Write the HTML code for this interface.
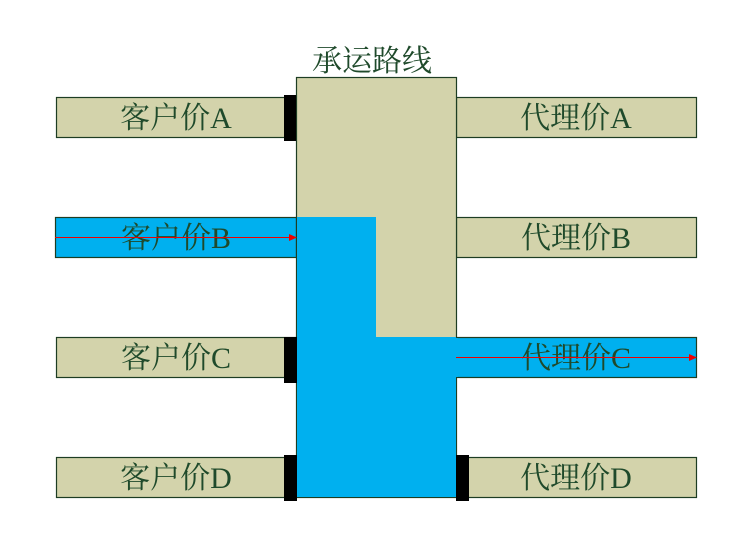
<!DOCTYPE html>
<html><head><meta charset="utf-8"><style>
html,body{margin:0;padding:0;background:#fff;width:737px;height:554px;overflow:hidden}
text{font-family:"Liberation Serif","Noto Serif CJK SC",serif;font-size:30px;fill:#1f4a2b}
</style></head><body>
<svg width="737" height="554" viewBox="0 0 737 554" xmlns="http://www.w3.org/2000/svg">
<g stroke="#1d3d23" stroke-width="1.2">
<rect x="56.5" y="97.5" width="240" height="40" fill="#d3d3ab"/>
<rect x="56.5" y="337.5" width="240" height="40" fill="#d3d3ab"/>
<rect x="56.5" y="457.5" width="240" height="40" fill="#d3d3ab"/>
<rect x="55.5" y="217.5" width="241" height="40" fill="#00b0ef"/>
<rect x="456.5" y="97.5" width="240" height="40" fill="#d3d3ab"/>
<rect x="456.5" y="217.5" width="240" height="40" fill="#d3d3ab"/>
<rect x="456.5" y="457.5" width="240" height="40" fill="#d3d3ab"/>
<rect x="456.5" y="337.5" width="240" height="40" fill="#00b0ef"/>
<rect x="296.5" y="77.5" width="160" height="420" fill="#d3d3ab"/>
</g>
<polygon points="297,217 376,217 376,337 456,337 456,497 297,497" fill="#00b0ef"/>
<rect x="297" y="218" width="1" height="39" fill="#00b0ef"/>
<rect x="456" y="338" width="2" height="39" fill="#00b0ef"/>
<rect x="284" y="95" width="12" height="46" fill="#000"/>
<rect x="284" y="337" width="13" height="46" fill="#000"/>
<rect x="284" y="455" width="13" height="46" fill="#000"/>
<rect x="456" y="455" width="13" height="46" fill="#000"/>
<text x="372" y="71" text-anchor="middle">承运路线</text>
<text x="176" y="128" text-anchor="middle">客户价A</text>
<text x="176" y="248" text-anchor="middle">客户价B</text>
<text x="176" y="368" text-anchor="middle">客户价C</text>
<text x="176" y="488" text-anchor="middle">客户价D</text>
<text x="576" y="128" text-anchor="middle">代理价A</text>
<text x="576" y="248" text-anchor="middle">代理价B</text>
<text x="576" y="368" text-anchor="middle">代理价C</text>
<text x="576" y="488" text-anchor="middle">代理价D</text>
<line x1="55" y1="237.5" x2="291" y2="237.5" stroke="#e00" stroke-width="1"/>
<polygon points="289,234 297,237.5 289,241" fill="#e00"/>
<line x1="456" y1="357.5" x2="691" y2="357.5" stroke="#e00" stroke-width="1"/>
<polygon points="689,354 697,357.5 689,361" fill="#e00"/>
</svg>
</body></html>
